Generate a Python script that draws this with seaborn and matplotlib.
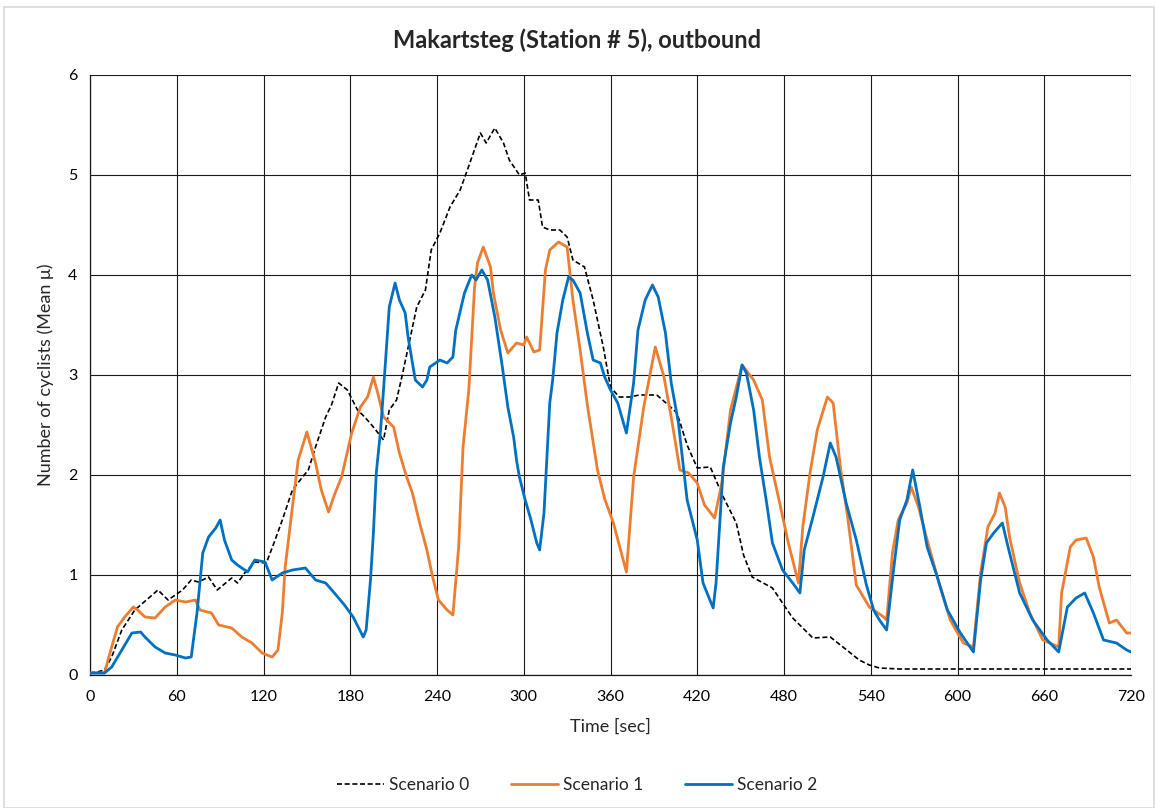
import matplotlib
matplotlib.use("Agg")
import matplotlib.pyplot as plt
import seaborn as sns
import pandas as pd
from matplotlib.patches import Rectangle

# ---------------- data ----------------
title = "Makartsteg (Station # 5), outbound"
x_label = "Time [sec]"
y_label = "Number of cyclists (Mean μ)"
series_names = ["Scenario 0", "Scenario 1", "Scenario 2"]
x_ticks = [0, 60, 120, 180, 240, 300, 360, 420, 480, 540, 600, 660, 720]
y_ticks = [0, 1, 2, 3, 4, 5, 6]

s0_t = [0, 5, 10, 15, 22, 31, 39, 47, 54, 64, 70, 75, 82, 88, 98, 102, 107, 114, 122, 128,
        133, 140, 147, 151, 156, 163, 167, 172, 178, 185, 190, 196, 203, 207, 212, 216, 226, 232, 236, 242,
        249, 256, 261, 270, 274, 280, 286, 290, 297, 301, 304, 310, 313, 318, 325, 330, 334, 342, 348, 355,
        360, 366, 373, 380, 392, 400, 406, 413, 420, 429, 438, 447, 452, 458, 472, 486, 500, 512, 526, 532,
        539, 546, 560, 720]
s0_v = [0.02, 0.03, 0.05, 0.18, 0.45, 0.65, 0.75, 0.85, 0.75, 0.85, 0.95, 0.93, 0.98, 0.85, 0.97, 0.92, 1.02, 1.13, 1.12, 1.35,
        1.55, 1.85, 1.98, 2.05, 2.28, 2.58, 2.70, 2.92, 2.85, 2.65, 2.58, 2.48, 2.35, 2.65, 2.75, 3.00, 3.68, 3.85, 4.25, 4.42,
        4.68, 4.85, 5.05, 5.42, 5.32, 5.47, 5.32, 5.15, 5.00, 5.02, 4.75, 4.75, 4.48, 4.45, 4.45, 4.38, 4.15, 4.08, 3.75, 3.28,
        2.88, 2.78, 2.78, 2.80, 2.80, 2.70, 2.62, 2.30, 2.07, 2.08, 1.78, 1.52, 1.20, 0.98, 0.87, 0.57, 0.37, 0.38, 0.22, 0.15,
        0.10, 0.07, 0.06, 0.06]

s1_t = [0, 10, 15, 19, 24, 30, 33, 38, 45, 52, 59, 66, 73, 76, 84, 89, 98, 105, 112, 119,
        126, 130, 133, 135, 140, 144, 150, 156, 160, 165, 169, 174, 181, 187, 192, 196, 199, 203, 210, 214,
        219, 223, 228, 233, 237, 241, 247, 251, 255, 258, 262, 266, 268, 272, 277, 279, 284, 289, 295, 300,
        302, 307, 311, 315, 318, 324, 330, 334, 339, 344, 351, 356, 362, 367, 371, 376, 383, 391, 397, 402,
        408, 414, 420, 425, 432, 437, 443, 451, 459, 465, 470, 477, 483, 490, 493, 498, 503, 510, 514, 519,
        524, 530, 539, 549, 551, 555, 559, 565, 568, 573, 579, 588, 595, 604, 611, 616, 621, 626, 629, 633,
        636, 643, 650, 659, 670, 672, 678, 682, 689, 694, 698, 705, 710, 717, 720]
s1_v = [0.02, 0.02, 0.28, 0.48, 0.58, 0.68, 0.65, 0.58, 0.57, 0.68, 0.75, 0.73, 0.75, 0.65, 0.62, 0.50, 0.47, 0.38, 0.32, 0.22,
        0.18, 0.25, 0.62, 1.08, 1.68, 2.15, 2.43, 2.12, 1.85, 1.63, 1.80, 1.98, 2.42, 2.68, 2.78, 2.98, 2.82, 2.58, 2.48, 2.22,
        1.98, 1.82, 1.52, 1.25, 0.98, 0.75, 0.65, 0.60, 1.28, 2.28, 2.85, 3.88, 4.12, 4.28, 4.08, 3.82, 3.45, 3.22, 3.32, 3.30,
        3.38, 3.23, 3.25, 4.05, 4.25, 4.33, 4.28, 3.75, 3.25, 2.70, 2.05, 1.76, 1.52, 1.25, 1.03, 1.98, 2.68, 3.28, 2.98, 2.58,
        2.05, 2.02, 1.92, 1.70, 1.57, 1.92, 2.65, 3.10, 2.95, 2.75, 2.18, 1.72, 1.32, 0.92, 1.48, 2.02, 2.45, 2.78, 2.72, 2.08,
        1.58, 0.90, 0.68, 0.58, 0.55, 1.22, 1.55, 1.72, 1.88, 1.68, 1.35, 0.88, 0.55, 0.32, 0.28, 1.02, 1.48, 1.62, 1.82, 1.68,
        1.38, 0.92, 0.62, 0.35, 0.28, 0.82, 1.28, 1.35, 1.37, 1.18, 0.88, 0.52, 0.55, 0.42, 0.42]

s2_t = [0, 10, 15, 22, 29, 35, 38, 45, 52, 59, 66, 70, 74, 78, 82, 87, 90, 93, 98, 102,
        109, 114, 121, 126, 133, 140, 149, 156, 163, 169, 176, 182, 189, 191, 194, 196, 198, 201, 203, 207,
        211, 214, 218, 220, 225, 230, 233, 235, 242, 247, 251, 253, 259, 264, 267, 271, 275, 280, 285, 289,
        293, 295, 297, 301, 305, 309, 311, 314, 316, 318, 320, 323, 327, 331, 334, 339, 344, 348, 353, 356,
        360, 365, 371, 376, 379, 384, 389, 393, 398, 402, 407, 413, 420, 424, 431, 433, 438, 443, 447, 451,
        454, 459, 463, 468, 472, 479, 486, 491, 494, 500, 507, 512, 516, 523, 530, 537, 542, 546, 551, 556,
        560, 565, 569, 574, 579, 586, 593, 602, 611, 616, 620, 625, 631, 636, 643, 652, 662, 670, 676, 682,
        688, 694, 701, 710, 717, 720]
s2_v = [0.02, 0.02, 0.08, 0.25, 0.42, 0.43, 0.38, 0.28, 0.22, 0.20, 0.17, 0.18, 0.62, 1.22, 1.38, 1.47, 1.55, 1.35, 1.15, 1.10,
        1.03, 1.15, 1.13, 0.95, 1.02, 1.05, 1.07, 0.95, 0.92, 0.82, 0.70, 0.58, 0.38, 0.45, 0.95, 1.42, 2.02, 2.45, 2.85, 3.68,
        3.92, 3.75, 3.62, 3.38, 2.95, 2.88, 2.95, 3.08, 3.15, 3.12, 3.18, 3.45, 3.82, 4.00, 3.95, 4.05, 3.95, 3.58, 3.10, 2.68,
        2.38, 2.15, 1.98, 1.75, 1.55, 1.32, 1.25, 1.62, 2.18, 2.72, 2.95, 3.42, 3.75, 3.98, 3.95, 3.82, 3.42, 3.15, 3.12, 2.98,
        2.85, 2.72, 2.42, 2.92, 3.45, 3.75, 3.90, 3.78, 3.42, 2.92, 2.52, 1.75, 1.35, 0.92, 0.67, 0.92, 2.08, 2.52, 2.78, 3.10,
        3.02, 2.65, 2.18, 1.72, 1.32, 1.05, 0.92, 0.82, 1.25, 1.58, 1.98, 2.32, 2.18, 1.72, 1.35, 0.90, 0.65, 0.55, 0.45, 1.08,
        1.55, 1.75, 2.05, 1.68, 1.28, 0.98, 0.65, 0.42, 0.23, 0.95, 1.32, 1.42, 1.52, 1.22, 0.82, 0.55, 0.35, 0.23, 0.68, 0.77,
        0.82, 0.62, 0.35, 0.32, 0.25, 0.23]

# ---------------- styling ----------------
sns.set_style("white")
plt.rcParams["font.family"] = ["Lato", "DejaVu Sans"]

fig = plt.figure(figsize=(11.55, 8.08), dpi=100)
ax = fig.add_axes([90 / 1155, 1 - 675 / 808, (1131 - 90) / 1155, 600 / 808])

# outer chart border
fig.patches.append(Rectangle((4 / 1155, 0.0), 1 - 4 / 1155 - 0.0005, 1 - 7 / 808,
                             transform=fig.transFigure, fill=False,
                             edgecolor="#d9d9d9", linewidth=1.2))

df0 = pd.DataFrame({"t": s0_t, "v": s0_v})
df1 = pd.DataFrame({"t": s1_t, "v": s1_v})
df2 = pd.DataFrame({"t": s2_t, "v": s2_v})

sns.lineplot(data=df0, x="t", y="v", ax=ax, color="black", linewidth=1.2,
             linestyle=(0, (3, 1.6)), label=series_names[0], zorder=3)
sns.lineplot(data=df1, x="t", y="v", ax=ax, color="#ED7D31", linewidth=2.0,
             label=series_names[1], zorder=3)
sns.lineplot(data=df2, x="t", y="v", ax=ax, color="#0070C0", linewidth=2.0,
             label=series_names[2], zorder=4)

ax.set_xlim(0, 720)
ax.set_ylim(0, 6)
ax.set_xticks(x_ticks)
ax.set_yticks(y_ticks)
ax.grid(True, color="#1a1a1a", linewidth=0.8)
ax.set_axisbelow(True)
for sp in ["top", "right"]:
    ax.spines[sp].set_visible(False)
for sp in ["left", "bottom"]:
    ax.spines[sp].set_color("#1a1a1a")
    ax.spines[sp].set_linewidth(0.9)
ax.tick_params(axis="both", which="major", direction="out", length=5, width=0.8,
               color="#1a1a1a", labelsize=11.5, labelcolor="black", pad=4)
ax.tick_params(axis="x", pad=6)

ax.set_xlabel(x_label, fontsize=13, labelpad=10)
ax.set_ylabel(y_label, fontsize=13, labelpad=10)
fig.text(0.5, 1 - 40 / 808, title, ha="center", va="center",
         fontsize=17, fontweight="bold")

ax.legend(loc="center", bbox_to_anchor=(0.5, 1 - 785 / 808), bbox_transform=fig.transFigure,
          ncol=3, frameon=False, fontsize=12.5, handlelength=2.7, columnspacing=2.4,
          handletextpad=0.3)

fig.savefig("out.png", dpi=100)
